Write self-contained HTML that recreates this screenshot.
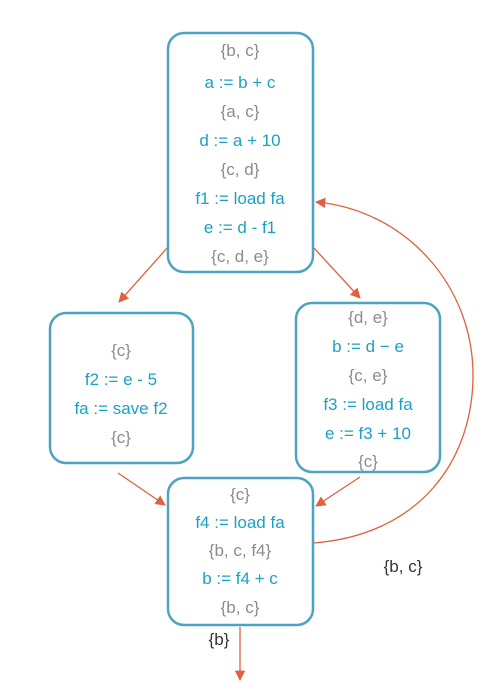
<!DOCTYPE html>
<html><head><meta charset="utf-8"><style>
body{margin:0;background:#fff}
svg text{font-family:"Liberation Sans","DejaVu Sans",sans-serif;font-size:17px;text-anchor:middle}
.g{fill:#8c8c8c}.t{fill:#1ba2c2}.k{fill:#333}
.box{fill:#fff;stroke:#4fa3c2;stroke-width:2.5}
.ar{stroke:#e0603f;stroke-width:1.3;fill:none}
</style></head><body>
<svg width="490" height="689" viewBox="0 0 490 689">
<defs><marker id="m" viewBox="0 0 10 10" refX="9" refY="5" markerWidth="8" markerHeight="8" orient="auto"><path d="M0,0L10,5L0,10z" fill="#e0603f"/></marker></defs>
<g>
<path class="ar" d="M168,247L119,302" marker-end="url(#m)"/>
<path class="ar" d="M313,247L360,298" marker-end="url(#m)"/>
<path class="ar" d="M118,473L165,505" marker-end="url(#m)"/>
<path class="ar" d="M360,477L316,506" marker-end="url(#m)"/>
<path class="ar" d="M313,543C420,535 473,460 473,375C473,285 405,210 316,202" marker-end="url(#m)"/>
<path class="ar" d="M240,627L240,680" marker-end="url(#m)"/>
</g>
<g>
<rect class="box" x="168" y="33" width="145" height="239" rx="16"/>
<text class="g" x="240" y="56">{b, c}</text>
<text class="t" x="240" y="88">a := b + c</text>
<text class="g" x="240" y="117">{a, c}</text>
<text class="t" x="240" y="146">d := a + 10</text>
<text class="g" x="240" y="175">{c, d}</text>
<text class="t" x="240" y="204">f1 := load fa</text>
<text class="t" x="240" y="233">e := d - f1</text>
<text class="g" x="240" y="262">{c, d, e}</text>
</g>
<g>
<rect class="box" x="50" y="313" width="143" height="150" rx="16"/>
<text class="g" x="121" y="356">{c}</text>
<text class="t" x="121" y="385">f2 := e - 5</text>
<text class="t" x="121" y="414">fa := save f2</text>
<text class="g" x="121" y="443">{c}</text>
</g>
<g>
<rect class="box" x="296" y="303" width="144" height="169" rx="16"/>
<text class="g" x="368" y="323">{d, e}</text>
<text class="t" x="368" y="352">b := d − e</text>
<text class="g" x="368" y="381">{c, e}</text>
<text class="t" x="368" y="410">f3 := load fa</text>
<text class="t" x="368" y="439">e := f3 + 10</text>
<text class="g" x="368" y="467">{c}</text>
</g>
<g>
<rect class="box" x="168" y="478" width="145" height="147" rx="16"/>
<text class="g" x="240" y="500">{c}</text>
<text class="t" x="240" y="528">f4 := load fa</text>
<text class="g" x="240" y="556">{b, c, f4}</text>
<text class="t" x="240" y="584">b := f4 + c</text>
<text class="g" x="240" y="613">{b, c}</text>
</g>
<text class="k" x="403" y="572">{b, c}</text>
<text class="k" x="219" y="645">{b}</text>
</svg>
</body></html>
